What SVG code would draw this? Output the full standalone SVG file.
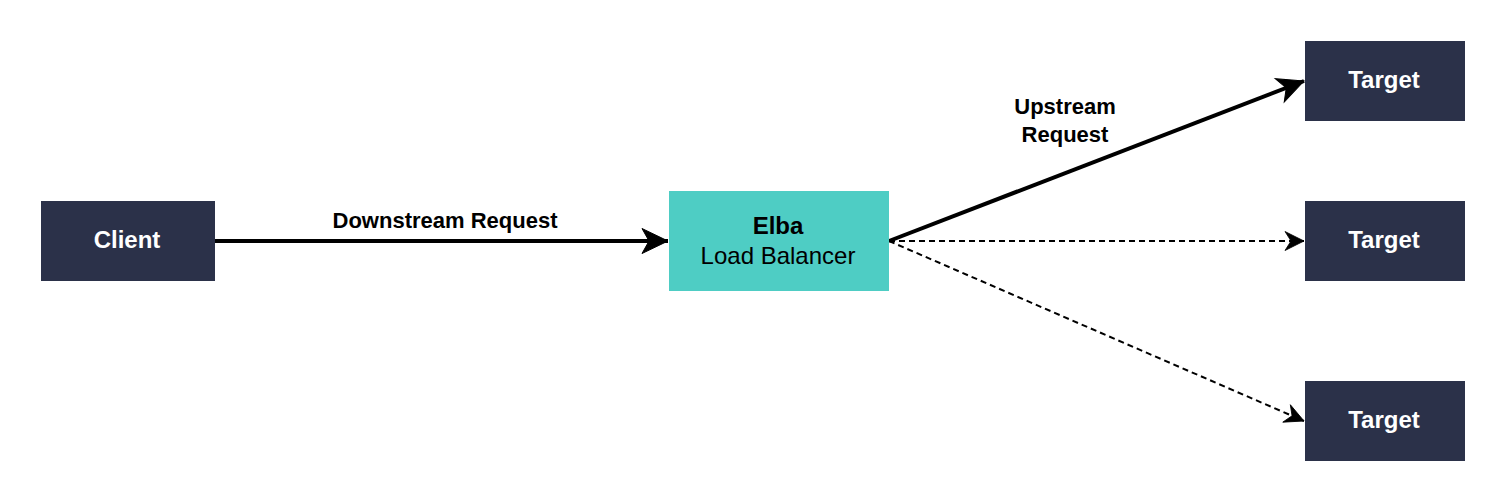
<svg xmlns="http://www.w3.org/2000/svg" width="1506" height="502" viewBox="0 0 1506 502">
<style>
.dark{fill:#2B3149}
.teal{fill:#4ECDC4}
.nt{font-family:"Liberation Sans",Arial,sans-serif;font-size:24px;text-anchor:middle}
.lbl{font-family:"Liberation Sans",Arial,sans-serif;font-size:22px;font-weight:bold;text-anchor:middle;fill:#000}
.thick{stroke:#000;stroke-width:4;fill:none}
.dash{stroke:#000;stroke-width:2;fill:none;stroke-dasharray:6 4}
</style>
<defs>
<marker id="big" markerUnits="userSpaceOnUse" viewBox="-28 -15 30 30" refX="0" refY="0" markerWidth="30" markerHeight="30" orient="auto">
<path d="M0,0 L-26,-12.5 L-19,0 L-26,12.5 Z" fill="#000" stroke="#000" stroke-width="1" stroke-linejoin="miter"/>
</marker>
<marker id="small" markerUnits="userSpaceOnUse" viewBox="-21 -11 23 22" refX="0" refY="0" markerWidth="23" markerHeight="22" orient="auto">
<path d="M0,0 L-19,-9.5 L-13,0 L-19,9.5 Z" fill="#000" stroke="#000" stroke-width="0.8"/>
</marker>
</defs>
<rect width="1506" height="502" fill="#fff"/>
<g id="connectors">
<line class="thick" x1="215" y1="241" x2="668" y2="241" marker-end="url(#big)"/>
<line class="thick" x1="889" y1="241" x2="1304" y2="81" marker-end="url(#big)"/>
<line class="dash" x1="889" y1="241" x2="1304" y2="241" marker-end="url(#small)"/>
<line class="dash" x1="889" y1="241" x2="1304" y2="421" marker-end="url(#small)"/>
<text class="lbl" x="445" y="228">Downstream Request</text>
<text class="lbl" x="1065" y="114">Upstream</text>
<text class="lbl" x="1065" y="142">Request</text>
</g>
<g id="client">
<rect class="dark" x="41" y="201" width="174" height="80"/>
<text class="nt" x="127" y="248" fill="#fff" font-weight="bold">Client</text>
</g>
<g id="elba">
<rect class="teal" x="669" y="191" width="220" height="100"/>
<text class="nt" x="778" y="234" fill="#000" font-weight="bold">Elba</text>
<text class="nt" x="778" y="264" fill="#000">Load Balancer</text>
</g>
<g id="target1">
<rect class="dark" x="1305" y="41" width="160" height="80"/>
<text class="nt" x="1384" y="88" fill="#fff" font-weight="bold">Target</text>
</g>
<g id="target2">
<rect class="dark" x="1305" y="201" width="160" height="80"/>
<text class="nt" x="1384" y="248" fill="#fff" font-weight="bold">Target</text>
</g>
<g id="target3">
<rect class="dark" x="1305" y="381" width="160" height="80"/>
<text class="nt" x="1384" y="428" fill="#fff" font-weight="bold">Target</text>
</g>
</svg>
